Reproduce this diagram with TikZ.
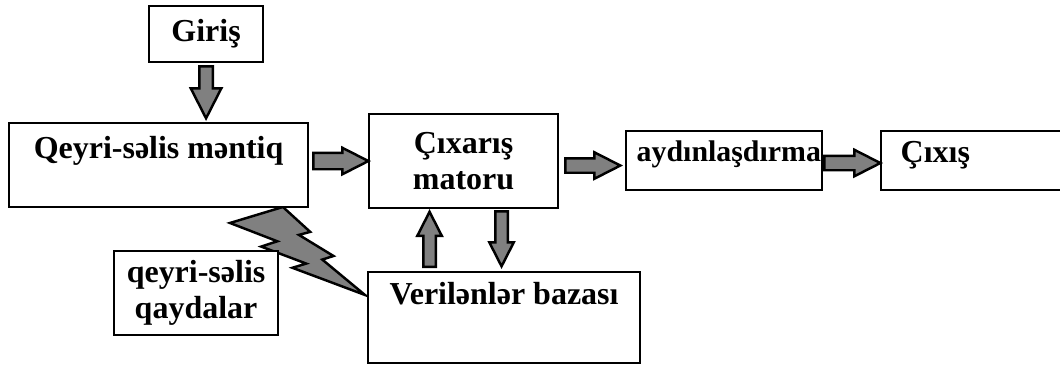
\documentclass[tikz,border=0pt]{standalone}
\usepackage{fontspec}
\setmainfont{Liberation Serif}
\usetikzlibrary{shapes.arrows,calc,positioning}
\definecolor{blockgray}{HTML}{808080}

\begin{document}
\begin{tikzpicture}[font=\fontsize{9.1}{10.4}\selectfont\bfseries,
  box/.style={draw=black, line width=0.6pt, fill=white, inner sep=0pt, anchor=north west},
  lab/.style={inner sep=0pt, align=center},
  fat/.style={single arrow, draw=black, line width=0.7pt, fill=blockgray, inner sep=0.06cm,
    single arrow head extend=0.06cm, single arrow tip angle=54, minimum height=#1},
  bolt/.style={draw=black, line width=0.7pt, fill=blockgray, line join=miter}]

\useasboundingbox (0,0) rectangle (10.6,3.65);

% ---- lightning bolt between logic box and data base (drawn first)
\draw[bolt] (2.829,1.580) -- (2.300,1.420) -- (2.773,1.237) -- (2.612,1.184) -- (3.062,1.014)
  -- (2.924,0.972) -- (3.650,0.700) -- (3.223,1.054) -- (3.335,1.090) -- (2.989,1.301)
  -- (3.102,1.331) -- cycle;

% ---- boxes
\node[box, minimum width=1.14cm, minimum height=0.56cm] (giris) at (1.48,3.60) {Giriş};
\node[box, minimum width=2.99cm, minimum height=0.84cm] (fuzzy) at (0.08,2.43) {};
\node[lab, anchor=base] (fuzzy-t) at ([yshift=-0.37cm]fuzzy.north) {Qeyri-səlis məntiq};
\node[box, align=center, minimum width=1.89cm, minimum height=0.94cm] (engine) at (3.68,2.52)
  {Çıxarış\\ matoru};
\node[box, minimum width=1.96cm, minimum height=0.59cm] (clarify) at (6.25,2.35) {};
\node[lab, anchor=base west, font=\fontsize{8.5}{10}\selectfont\bfseries] (clarify-t)
  at (6.36,2.03) {aydınlaşdırma};
\node[box, minimum width=1.90cm, minimum height=0.59cm] (output) at (8.80,2.35) {};
\node[lab, anchor=base west] (output-t) at (9.00,2.02) {Çıxış};
\node[box, align=center, minimum width=1.64cm, minimum height=0.84cm] (rules) at (1.13,1.15)
  {qeyri-səlis\\ qaydalar};
\node[box, minimum width=2.72cm, minimum height=0.91cm] (db) at (3.67,0.94) {};
\node[lab, anchor=base] (db-t) at ([yshift=-0.34cm]db.north) {Verilənlər bazası};

% ---- block arrows
\node[fat=0.52cm, rotate=-90, anchor=tail, inner sep=0.055cm, single arrow head extend=0.085cm] (a1)
  at ([yshift=-0.02cm]giris.south) {};
\node[fat=0.55cm, anchor=tail, inner sep=0.07cm, single arrow head extend=0.05cm] (a2)
  at ([xshift=0.03cm, yshift=0.04cm]fuzzy.east) {};
\node[fat=0.55cm, anchor=tail] (a3) at ([xshift=0.05cm, yshift=-0.045cm]engine.east) {};
\node[fat=0.56cm, anchor=tail] (a4) at ([yshift=-0.025cm]clarify.east) {};
\node[fat=0.55cm, rotate=90, anchor=tip, inner sep=0.05cm] (a5)
  at ([xshift=-0.34cm]engine.south) {};
\node[fat=0.55cm, rotate=-90, anchor=tail, inner sep=0.05cm] (a6)
  at ([xshift=0.38cm, yshift=-0.01cm]engine.south) {};
\end{tikzpicture}
\end{document}
